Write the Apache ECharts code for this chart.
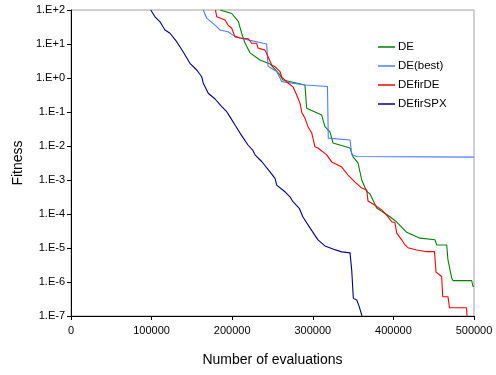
<!DOCTYPE html>
<html>
<head>
<meta charset="utf-8">
<script src="https://cdn.jsdelivr.net/npm/echarts@6/dist/echarts.min.js"></script>
<style>
  html, body { margin: 0; padding: 0; background: #fff; }
  #chart { width: 496px; height: 375px; }
</style>
</head>
<body>
<div id="chart"></div>
<script>
// series names (legend order)
const seriesNames = ['DE', 'DE(best)', 'DEfirDE', 'DEfirSPX'];
const seriesColors = ['#008000', '#4a7cff', '#ff0000', '#000080'];

// [evaluations, fitness]
const deData = [
  [184900, 100], [199400, 79], [207600, 46], [211800, 20.4], [215900, 10.7],
  [222100, 5.5], [234500, 3.4], [246900, 2.6], [259300, 1.23], [263000, 0.87],
  [290300, 0.62], [292400, 0.129], [311000, 0.081], [315100, 0.037], [321300, 0.026],
  [325000, 0.0123], [346200, 0.0087], [349900, 0.0048], [356100, 0.0032], [360700, 0.001],
  [366900, 4.6e-4], [371000, 3.9e-4], [379300, 1.5e-4], [395800, 8.3e-5], [404100, 5.8e-5],
  [416500, 2.9e-5], [433000, 1.95e-5], [451600, 1.74e-5], [453700, 1.23e-5], [466100, 1.23e-5],
  [467700, 4.5e-6], [472300, 1.32e-6], [474000, 1.1e-6], [497100, 1.1e-6], [498800, 7.4e-7],
  [500000, 7.4e-7]
];
const deBestData = [
  [164100, 100], [168400, 57.5], [180800, 32.4], [184900, 25.7], [194800, 22.9],
  [201000, 18.2], [209700, 15.1], [219600, 13.2], [230400, 11.7], [242800, 10],
  [244400, 2.24], [249000, 1.9], [255200, 1.55], [259300, 1.0], [261400, 0.78],
  [290300, 0.62], [318200, 0.56], [319200, 0.017], [346200, 0.015], [348300, 0.0055],
  [354500, 0.0049], [500000, 0.0047]
];
const deFirDeData = [
  [179300, 100], [180800, 63], [191100, 51], [194800, 36], [199400, 29],
  [203500, 16.2], [211800, 14.8], [219600, 14.5], [224200, 10.5], [230400, 10.5],
  [232000, 7.6], [240700, 6.6], [244400, 4.3], [249000, 2.4], [253100, 2.14],
  [259300, 1.55], [261400, 1.07], [265500, 0.87], [269200, 0.71], [275400, 0.55],
  [280000, 0.316], [284100, 0.182], [286600, 0.093], [290300, 0.066], [294000, 0.037],
  [298700, 0.024], [302700, 0.0095], [306400, 0.0087], [317200, 0.0055], [323500, 0.0034],
  [335900, 0.0024], [343700, 0.0014], [352400, 8.7e-4], [360700, 5.8e-4], [366900, 5.1e-4],
  [368500, 2.4e-4], [377200, 1.8e-4], [385500, 1.32e-4], [391700, 9.3e-5], [397900, 5.9e-5],
  [402000, 5.5e-5], [404100, 2.75e-5], [410300, 1.74e-5], [414400, 1.23e-5], [418100, 1.02e-5],
  [428900, 8.7e-6], [441300, 7.8e-6], [451000, 7.8e-6], [452900, 1.95e-6], [459900, 1.45e-6],
  [461200, 3.7e-7], [467700, 3.7e-7], [469600, 1.74e-7], [490700, 1.74e-7], [492200, 5e-8]
];
const deFirSpxData = [
  [98900, 100], [104200, 63], [110400, 45], [116600, 25.7], [122800, 20.7],
  [131100, 11.7], [139300, 5.8], [147600, 2.7], [156000, 1.72], [162200, 1.09],
  [164100, 0.70], [170300, 0.355], [178700, 0.241], [187000, 0.143], [193200, 0.102],
  [197300, 0.072], [203500, 0.0414], [209700, 0.024], [219600, 0.0107], [225400, 0.0076],
  [228300, 0.0055], [236600, 0.0035], [246900, 0.00174], [253100, 0.00112], [255200, 7.1e-4],
  [265500, 4.5e-4], [271700, 3.2e-4], [275400, 2.3e-4], [283200, 1.47e-4], [287800, 8.2e-5],
  [296500, 3.9e-5], [306400, 1.73e-5], [315100, 1.15e-5], [325000, 9.3e-6], [335900, 7.7e-6],
  [346200, 7.2e-6], [348300, 2.2e-6], [350300, 3.3e-7], [354500, 2.95e-7], [357700, 1.86e-7],
  [360700, 1.07e-7], [362300, 5e-8]
];

const allData = [deData, deBestData, deFirDeData, deFirSpxData];

const xTicks = [0, 100000, 200000, 300000, 400000, 500000];

const chart = echarts.init(document.getElementById('chart'), null, { renderer: 'canvas' });

const font = '"Liberation Sans", Arial, sans-serif';

const option = {
  animation: false,
  backgroundColor: '#fff',
  grid: {
    left: 71, right: 22, top: 10, bottom: 59,
    show: true,
    borderColor: '#a0a0a0',
    borderWidth: 1
  },
  legend: {
    orient: 'vertical',
    left: 378,
    top: 41,
    padding: 0,
    icon: 'rect',
    itemWidth: 17,
    itemHeight: 1.5,
    itemGap: 7,
    data: seriesNames,
    textStyle: { fontFamily: font, fontSize: 11.5, lineHeight: 12, color: '#000', padding: [0, 0, 0, -2] }
  },
  xAxis: {
    type: 'value',
    min: xTicks[0],
    max: xTicks[xTicks.length - 1],
    interval: 100000,
    name: 'Number of evaluations',
    nameLocation: 'middle',
    nameGap: 37,
    nameTextStyle: { fontFamily: font, fontSize: 14, color: '#000' },
    axisLine: { lineStyle: { color: '#000', width: 1 } },
    axisTick: { show: true, length: 4, lineStyle: { color: '#000' } },
    axisLabel: {
      fontFamily: font, fontSize: 11, color: '#000', margin: 9,
      formatter: v => String(v)
    },
    splitLine: { show: false }
  },
  yAxis: {
    type: 'log',
    logBase: 10,
    min: 1e-7,
    max: 100,
    splitNumber: 9,
    name: 'Fitness',
    nameLocation: 'middle',
    nameGap: 38,
    nameTextStyle: { fontFamily: font, fontSize: 14, color: '#000' },
    axisLine: { show: true, lineStyle: { color: '#000', width: 1 } },
    axisTick: { show: true, length: 4, lineStyle: { color: '#000' } },
    axisLabel: {
      fontFamily: font, fontSize: 11, color: '#000', margin: 6,
      formatter: function (v) {
        const e = Math.round(Math.log10(v));
        return '1.E' + (e < 0 ? '-' : '+') + Math.abs(e);
      }
    },
    splitLine: { show: false }
  },
  series: seriesNames.map((name, i) => ({
    name: name,
    type: 'line',
    data: allData[i],
    symbol: 'none',
    clip: true,
    color: seriesColors[i],
    lineStyle: { color: seriesColors[i], width: 1.1 }
  }))
};

chart.setOption(option);
</script>
</body>
</html>
